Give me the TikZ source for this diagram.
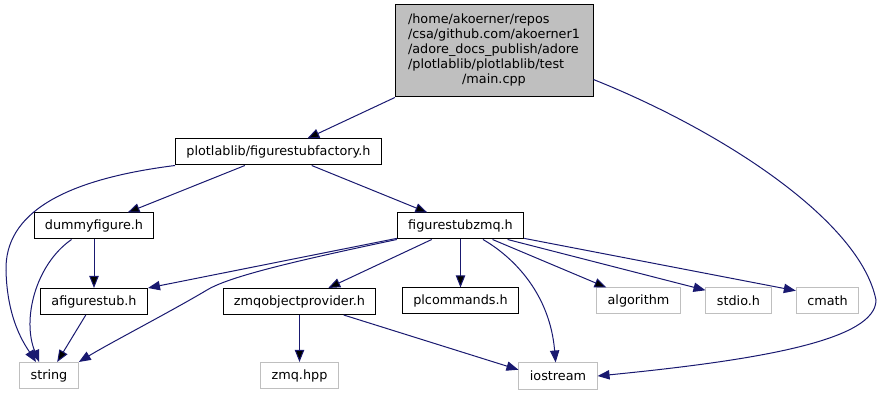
\documentclass[tikz,border=0pt]{standalone}
\usepackage{fontspec}
\setmainfont{DejaVu Sans}
\usetikzlibrary{arrows.meta}
\definecolor{edgeblue}{HTML}{191970}
\definecolor{grey75}{HTML}{BFBFBF}

\begin{document}
\begin{tikzpicture}[x=0.75pt,y=-0.75pt,
	font=\fontsize{9.6}{11.25}\selectfont,
	dep/.style={draw=edgeblue,line width=0.75pt,-{Triangle[length=9pt,width=7pt]}},
	doc/.style={draw=black},
	sys/.style={draw=grey75}]
	\useasboundingbox (0,0) rectangle (882,395);
	\begin{scope}[every node/.style={rectangle,line width=0.75pt,inner xsep=8.2pt,inner ysep=1pt,minimum height=19.5pt}]
	\node[doc,fill=grey75,minimum width=148.5pt,minimum height=69pt] (main) at (494,51)
		{\begin{tabular}{@{}l@{}}/home/akoerner/repos\\/csa/github.com/akoerner1\\/adore\_docs\_publish/adore\\/plotlablib/plotlablib/test\\\multicolumn{1}{@{}c@{}}{/main.cpp}\end{tabular}};
	\node[doc] (factory) at (278.5,152) {plotlablib/figurestubfactory.h};
	\node[doc] (dummyfigure) at (94,226) {dummyfigure.h};
	\node[doc] (figurestubzmq) at (460.5,226) {figurestubzmq.h};
	\node[doc] (afigurestub) at (94,301.5) {afigurestub.h};
	\node[doc] (zmqobjectprovider) at (299.5,301.5) {zmqobjectprovider.h};
	\node[doc] (plcommands) at (460.5,301) {plcommands.h};
	\node[sys] (algorithm) at (638.5,301) {algorithm};
	\node[sys] (stdio) at (738.5,301) {stdio.h};
	\node[sys] (cmath) at (827.5,301) {cmath};
	\node[sys] (string) at (49,375.5) {string};
	\node[sys] (zmqhpp) at (299.5,375.5) {zmq.hpp};
	\node[sys] (iostream) at (558,376) {iostream};
	\end{scope}
	% includes of main.cpp
	\draw [dep] (main) edge (factory);
	\draw [dep] (main.-16) .. controls (720,130) and (860,220) .. (876,300)
		.. controls (876,340) and (760,360) .. (iostream.east);
	% includes of figurestubfactory.h
	\draw [dep] (factory.south west) .. controls (60,180) and (5,215) .. (6,270)
		.. controls (7,320) and (25,345) .. (string.134);
	\draw [dep] (factory) edge (dummyfigure);
	\draw [dep] (factory) edge (figurestubzmq);
	% includes of dummyfigure.h
	\draw [dep] (dummyfigure) edge (afigurestub);
	\draw [dep] (dummyfigure.-149) .. controls (35,265) and (22,320) .. (string.126);
	\draw [dep] (afigurestub) edge (string);
	% includes of figurestubzmq.h
	\draw [dep] (figurestubzmq.-169) -- (afigurestub.north east);
	\draw [dep] (figurestubzmq.south west) .. controls (300,260) and (230,276) .. (207,290)
		.. controls (170,312) and (110,343) .. (string.north east);
	\draw [dep] (figurestubzmq) edge (zmqobjectprovider);
	\draw [dep] (figurestubzmq) edge (plcommands);
	\draw [dep] (figurestubzmq.-31) .. controls (515,258) and (550,295) .. (iostream.100);
	\draw [dep] (figurestubzmq) edge (algorithm);
	\draw [dep] (figurestubzmq.-16) -- (stdio.162);
	\draw [dep] (figurestubzmq.-11) -- (cmath.162);
	% includes of zmqobjectprovider.h
	\draw [dep] (zmqobjectprovider) edge (zmqhpp);
	\draw [dep] (zmqobjectprovider.-17) -- (iostream.171);
\end{tikzpicture}
\end{document}
